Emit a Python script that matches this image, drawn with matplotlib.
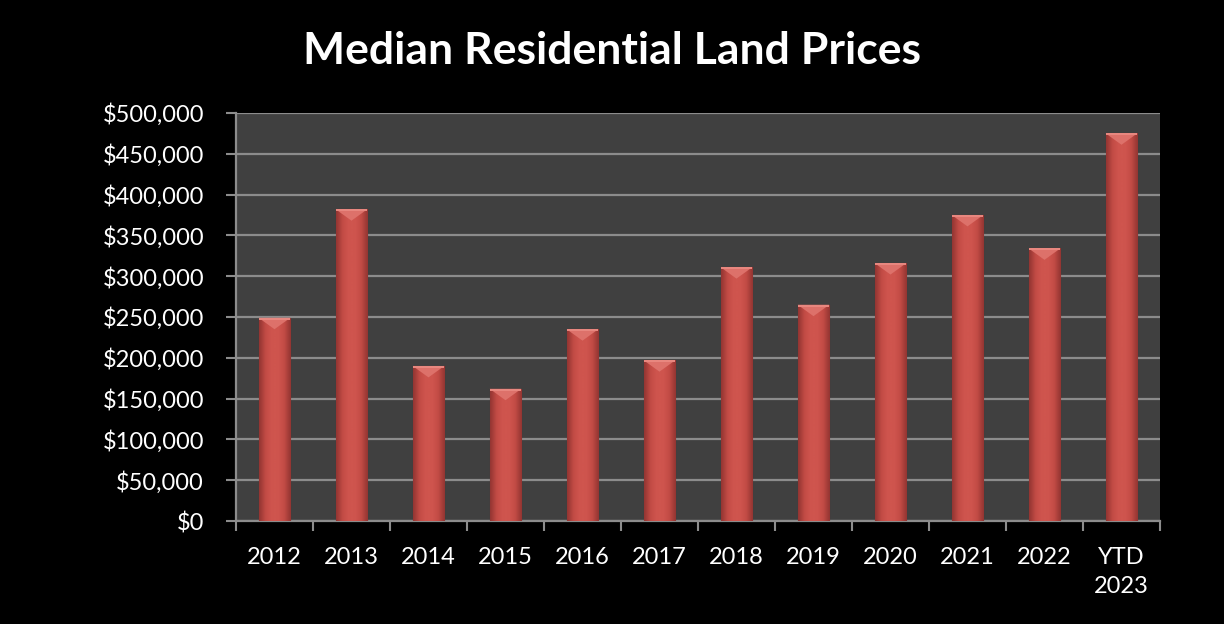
import numpy as np
import matplotlib
matplotlib.use("Agg")
import matplotlib.pyplot as plt
from matplotlib.ticker import FuncFormatter, FixedLocator
from matplotlib.colors import LinearSegmentedColormap

# data
years = ["2012", "2013", "2014", "2015", "2016", "2017", "2018",
         "2019", "2020", "2021", "2022", "YTD\n2023"]
prices = [249000, 382000, 190000, 162000, 235000, 197000, 311000,
          265000, 316000, 375000, 334000, 475000]

plt.rcParams['font.family'] = ['Lato', 'DejaVu Sans']

fig = plt.figure(figsize=(12.24, 6.24), dpi=100)
fig.patch.set_facecolor('black')
ax = fig.add_axes([0.1928, 0.165, 0.7549, 0.654])
ax.set_facecolor('#404040')

x = np.arange(len(years))
bars = ax.bar(x, prices, width=0.41, color='#c8504a', edgecolor='#6e2522',
              linewidth=0.8, zorder=3)

# horizontal shading across each bar
grad = LinearSegmentedColormap.from_list(
    'bar', ['#933532', '#c24b45', '#cf554e', '#cf554e', '#c24b45', '#933532'])
g = np.linspace(0, 1, 64).reshape(1, -1)
for b in bars:
    x0, w, h = b.get_x(), b.get_width(), b.get_height()
    im = ax.imshow(g, cmap=grad, aspect='auto', extent=[x0, x0 + w, 0, h],
                   zorder=4, interpolation='bicubic')
    im.set_clip_path(b)
    # bevelled top
    cap = 0.028 * 500000
    ax.fill([x0, x0 + w, x0 + w / 2], [h, h, h - cap], color='#dd716a',
            zorder=5, lw=0)
    ax.fill([x0, x0 + w, x0 + w, x0], [h, h, h - 0.005 * 500000, h - 0.005 * 500000],
            color='#e8877f', zorder=5, lw=0)

ax.set_xlim(-0.5, len(years) - 0.5)
ax.set_ylim(0, 500000)
ax.set_yticks(np.arange(0, 500001, 50000))
ax.yaxis.set_major_formatter(FuncFormatter(lambda v, p: "${:,.0f}".format(v)))
ax.grid(axis='y', color='#8c8c8c', linewidth=1.6, zorder=1)
ax.set_axisbelow(True)

ax.set_xticks(x)
ax.set_xticklabels(years, color='white', fontsize=17, linespacing=1.45,
                   va='top')
ax.xaxis.set_minor_locator(FixedLocator(np.arange(-0.5, len(years), 1)))
ax.tick_params(axis='x', which='major', length=0, pad=19)
ax.tick_params(axis='x', which='minor', length=7, width=1.5, color='#8c8c8c')
ax.tick_params(axis='y', length=7, width=1.5, color='#8c8c8c', labelcolor='white',
               labelsize=17, pad=16)

for s in ['top', 'right']:
    ax.spines[s].set_visible(False)
for s in ['left', 'bottom']:
    ax.spines[s].set_color('#8c8c8c')
    ax.spines[s].set_linewidth(1.6)

fig.text(0.5, 0.918, "Median Residential Land Prices", color='white',
         fontsize=32, fontweight='bold', ha='center', va='center')

fig.savefig('out.png', dpi=100, facecolor='black')
